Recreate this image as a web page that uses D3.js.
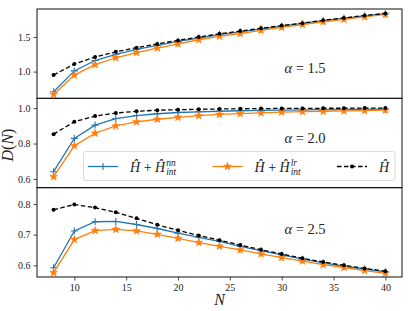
<!DOCTYPE html>
<html><head><meta charset="utf-8">
<script src="https://cdn.jsdelivr.net/npm/d3@7/dist/d3.min.js"></script>
<style>
body{margin:0;background:#fff;}
</style></head>
<body><svg id="chart" width="415" height="311"></svg>
<script>
const N = [8,10,12,14,16,18,20,22,24,26,28,30,32,34,36,38,40];
const alphas = ["1.5","2.0","2.5"];
// panel alpha=1.5
const nn15 = [0.71,1.01,1.16,1.25,1.32,1.38,1.435,1.485,1.535,1.575,1.615,1.655,1.695,1.735,1.77,1.805,1.835];
const lr15 = [0.67,0.95,1.10,1.20,1.275,1.34,1.40,1.46,1.51,1.55,1.595,1.64,1.68,1.72,1.755,1.79,1.825];
const h15  = [0.95,1.11,1.21,1.285,1.345,1.40,1.45,1.50,1.545,1.585,1.625,1.665,1.70,1.74,1.775,1.81,1.84];
// panel alpha=2.0
const nn20 = [0.641,0.829,0.904,0.941,0.958,0.968,0.975,0.979,0.982,0.985,0.987,0.989,0.990,0.991,0.992,0.993,0.994];
const lr20 = [0.613,0.787,0.858,0.899,0.922,0.937,0.948,0.957,0.964,0.969,0.973,0.977,0.980,0.982,0.984,0.986,0.988];
const h20  = [0.853,0.923,0.955,0.972,0.982,0.988,0.991,0.993,0.995,0.996,0.997,0.998,0.998,0.999,0.999,1.0,1.0];
// panel alpha=2.5
const nn25 = [0.592,0.712,0.742,0.743,0.733,0.720,0.705,0.691,0.678,0.662,0.648,0.634,0.620,0.608,0.597,0.588,0.579];
const lr25 = [0.576,0.684,0.713,0.717,0.712,0.701,0.688,0.674,0.662,0.650,0.637,0.625,0.614,0.602,0.593,0.583,0.574];
const h25  = [0.781,0.798,0.788,0.773,0.753,0.732,0.714,0.697,0.682,0.666,0.651,0.637,0.623,0.611,0.600,0.590,0.581];

const yDomains = [[0.614,1.904],[0.551,1.055],[0.562,0.853]];
const yTicks = [[1.0,1.5],[0.6,0.8,1.0],[0.6,0.7,0.8]];
const xTicks = [10,15,20,25,30,35,40];
const xDomain = [6.4,41.6];

const panels = [
  {nn:nn15, lr:lr15, h:h15},
  {nn:nn20, lr:lr20, h:h20},
  {nn:nn25, lr:lr25, h:h25}
];

const FONT = "\"Liberation Serif\", \"DejaVu Serif\", serif";
const svg = d3.select("#chart");
const mLeft=37, mRight=402, mTop=9, mBottom=277;
const ph = (mBottom-mTop)/3;
const x = d3.scaleLinear().domain(xDomain).range([mLeft,mRight]);
const blue="#1f77b4", orange="#ff7f0e";

function starPath(r){
  const pts=[];
  for(let i=0;i<10;i++){
    const a=-Math.PI/2+i*Math.PI/5;
    const rr = i%2===0? r : r*0.42;
    pts.push([rr*Math.cos(a), rr*Math.sin(a)]);
  }
  return "M"+pts.map(p=>p[0].toFixed(2)+","+p[1].toFixed(2)).join("L")+"Z";
}

function drawMarker(g,cx,cy,color,kind){
  if(kind==="nn"){
    g.append("path").attr("d",`M${cx-3.5},${cy}H${cx+3.5}M${cx},${cy-3.5}V${cy+3.5}`)
      .attr("stroke",color).attr("stroke-width",1.1);
  } else if(kind==="lr"){
    g.append("path").attr("d",starPath(4.2)).attr("transform",`translate(${cx},${cy})`)
      .attr("fill",color).attr("stroke",color).attr("stroke-width",0.5);
  } else {
    g.append("circle").attr("cx",cx).attr("cy",cy).attr("r",2).attr("fill","#000");
  }
}
function drawSeries(g, vals, y, color, kind){
  const line = d3.line().x((d,i)=>x(N[i])).y(d=>y(d));
  const p = g.append("path").attr("d",line(vals)).attr("fill","none")
    .attr("stroke",color).attr("stroke-width",1.3);
  if(kind==="h") p.attr("stroke-dasharray","4.5,2.5");
  vals.forEach((v,i)=>drawMarker(g,x(N[i]),y(v),color,kind));
}

panels.forEach((P,k)=>{
  const y0 = mTop + k*ph, y1 = y0+ph;
  const y = d3.scaleLinear().domain(yDomains[k]).range([y1,y0]);
  const g = svg.append("g");
  const clipId="clip"+k;
  svg.append("clipPath").attr("id",clipId).append("rect")
    .attr("x",mLeft).attr("y",y0).attr("width",mRight-mLeft).attr("height",ph);
  const gd = g.append("g").attr("clip-path",`url(#${clipId})`);
  drawSeries(gd,P.nn,y,blue,"nn");
  drawSeries(gd,P.lr,y,orange,"lr");
  drawSeries(gd,P.h,y,"#000","h");
  const ya = g.append("g").attr("transform",`translate(${mLeft},0)`)
    .call(d3.axisLeft(y).tickValues(yTicks[k]).tickFormat(d3.format(".1f")).tickSize(3.5).tickPadding(3));
  ya.select(".domain").remove();
  ya.selectAll("text").style("font-size","10px");
  ya.selectAll("line").attr("stroke","#222").attr("stroke-width",0.8);
  g.append("rect").attr("x",mLeft).attr("y",y0).attr("width",mRight-mLeft).attr("height",ph)
    .attr("fill","none").attr("stroke","#111").attr("stroke-width",1);
  const t = g.append("text").attr("x",305).attr("y",[72.5,143,234][k]).attr("text-anchor","middle")
    .style("font-size","14.5px").attr("xml:space","preserve");
  t.append("tspan").style("font-style","italic").text("α");
  t.append("tspan").text(" = "+alphas[k]);
  if(k===2){
    const xa = g.append("g").attr("transform",`translate(0,${y1})`)
      .call(d3.axisBottom(x).tickValues(xTicks).tickSize(3.5).tickPadding(3));
    xa.select(".domain").remove();
    xa.selectAll("text").style("font-size","10px");
    xa.selectAll("line").attr("stroke","#222").attr("stroke-width",0.8);
  }
});

svg.append("text").attr("x",(mLeft+mRight)/2).attr("y",305).attr("text-anchor","middle")
  .style("font-size","16px").style("font-style","italic").text("N");
const yl = svg.append("text").attr("transform",`translate(13,${(mTop+mBottom)/2+2}) rotate(-90)`)
  .attr("text-anchor","middle").style("font-size","16px");
yl.append("tspan").style("font-style","italic").text("D");
yl.append("tspan").text("(");
yl.append("tspan").style("font-style","italic").text("N");
yl.append("tspan").text(")");

const lg = svg.append("g");
lg.append("rect").attr("x",83.5).attr("y",151.5).attr("width",311.5).attr("height",29).attr("rx",2.5)
  .attr("fill","#fff").attr("fill-opacity",0.85).attr("stroke","#d0d0d0").attr("stroke-width",0.8);
const legendItems = [
  {kind:"nn", color:blue, x0:88, sup:"nn"},
  {kind:"lr", color:orange, x0:212.5, sup:"lr"},
  {kind:"h", color:"#000", x0:337, sup:null}
];
const ly = 166.5;
legendItems.forEach(it=>{
  const l = lg.append("line").attr("x1",it.x0).attr("x2",it.x0+30).attr("y1",ly).attr("y2",ly)
    .attr("stroke",it.color).attr("stroke-width",1.3);
  if(it.kind==="h") l.attr("stroke-dasharray","4.5,2.5");
  drawMarker(lg,it.x0+15,ly,it.color,it.kind);
  const tx = it.x0+42;
  const t = lg.append("text").attr("x",tx).attr("y",ly+5).style("font-size","14px")
    .style("font-family",FONT).attr("xml:space","preserve");
  if(it.sup){
    t.append("tspan").style("font-style","italic").text("H\u0302");
    t.append("tspan").text(" + ");
    t.append("tspan").style("font-style","italic").text("H\u0302");
    const w = t.node().getComputedTextLength();
    lg.append("text").attr("x",tx+w+1).attr("y",ly-0.5).style("font-size","9.5px").style("font-style","italic").text(it.sup);
    lg.append("text").attr("x",tx+w+1).attr("y",ly+8).style("font-size","9.5px").style("font-style","italic").text("int");
  } else {
    t.append("tspan").style("font-style","italic").text("H\u0302");
  }
});

svg.selectAll("text").attr("font-family",null).style("font-family",FONT).style("fill","#222");
</script></body></html>
